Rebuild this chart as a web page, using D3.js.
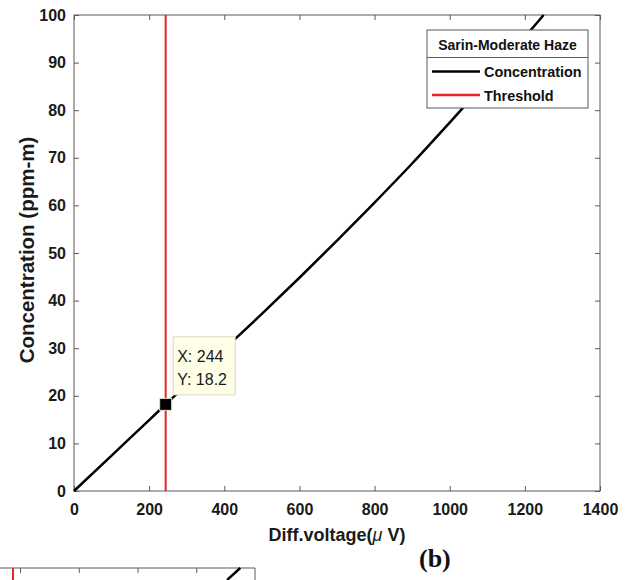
<!DOCTYPE html>
<html>
<head>
<meta charset="utf-8">
<script src="https://cdn.jsdelivr.net/npm/d3@7"></script>
<style>
  html, body { margin: 0; padding: 0; background: #fff; }
  svg { display: block; }
</style>
</head>
<body>
<svg id="chart" width="631" height="580" style="font-family: 'Liberation Sans', Arial, sans-serif"></svg>
<script>
// ---- data ----
const voltage       = [0, 100, 200, 244, 300, 400, 500, 600, 700, 800, 900, 1000, 1100, 1200, 1250];
const concentration = [0, 7.45, 14.9, 18.2, 22.4, 29.8, 37.2, 44.8, 52.6, 60.6, 68.8, 77.4, 86.2, 95.4, 100];
const thresholdX = [244, 244];
const thresholdY = [0, 100];
const tipX = 244, tipY = 18.2;
const xTicks = [0, 200, 400, 600, 800, 1000, 1200, 1400];
const yTicks = [0, 10, 20, 30, 40, 50, 60, 70, 80, 90, 100];
const legendTitle = "Sarin-Moderate Haze";
const seriesNames = ["Concentration", "Threshold"];
const seriesColors = ["#000000", "#e8232a"];
// fragment of the next panel (partially visible at bottom)
const fragTicks = [200, 400, 600, 800];
const fragThreshold = [176, 176];
const fragConcX = [905, 950];
const fragConcY = [97.5, 100];

const svg = d3.select("#chart");
const L = 74, R = 600, T = 15, B = 491;
const x = d3.scaleLinear().domain([0, 1400]).range([L, R]);
const y = d3.scaleLinear().domain([0, 100]).range([B, T]);
const axisCol = "#5a5a5a";
const sans = "'Liberation Sans', Arial, sans-serif";

// frame
svg.append("rect").attr("x", L).attr("y", T).attr("width", R - L).attr("height", B - T)
  .attr("fill", "none").attr("stroke", axisCol).attr("stroke-width", 1);

function styleAxis(g) {
  g.select(".domain").remove();
  g.selectAll(".tick line").attr("stroke", axisCol);
  g.selectAll(".tick text").attr("fill", "#1a1a1a").attr("font-size", 16).attr("font-weight", "bold")
    .attr("font-family", sans);
}
svg.append("g").attr("transform", `translate(0,${B})`)
  .call(d3.axisBottom(x).tickValues(xTicks).tickSizeInner(-5).tickSizeOuter(0).tickPadding(13).tickFormat(d3.format("d")))
  .call(styleAxis);
svg.append("g").attr("transform", `translate(${L},0)`)
  .call(d3.axisLeft(y).tickValues(yTicks).tickSizeInner(-5).tickSizeOuter(0).tickPadding(8).tickFormat(d3.format("d")))
  .call(styleAxis);
svg.append("g").attr("transform", `translate(0,${T})`)
  .call(d3.axisTop(x).tickValues(xTicks).tickSizeInner(-5).tickSizeOuter(0).tickFormat(""))
  .call(styleAxis);
svg.append("g").attr("transform", `translate(${R},0)`)
  .call(d3.axisRight(y).tickValues(yTicks).tickSizeInner(-5).tickSizeOuter(0).tickFormat(""))
  .call(styleAxis);

// threshold line
const pts = (xs, ys) => xs.map((v, i) => [v, ys[i]]);
const line = d3.line().x(d => x(d[0])).y(d => y(d[1]));
svg.append("path").datum(pts(thresholdX, thresholdY)).attr("d", line)
  .attr("fill", "none").attr("stroke", seriesColors[1]).attr("stroke-width", 2);
// concentration curve
svg.append("path").datum(pts(voltage, concentration))
  .attr("d", d3.line().x(d => x(d[0])).y(d => y(d[1])).curve(d3.curveMonotoneX))
  .attr("fill", "none").attr("stroke", seriesColors[0]).attr("stroke-width", 2.5);

// legend
const lg = svg.append("g").attr("transform", "translate(427,30)");
lg.append("rect").attr("width", 161).attr("height", 78).attr("fill", "#fff").attr("stroke", axisCol).attr("stroke-width", 1);
lg.append("line").attr("x1", 0).attr("x2", 161).attr("y1", 27.5).attr("y2", 27.5).attr("stroke", axisCol);
lg.append("text").attr("x", 80.5).attr("y", 20).attr("text-anchor", "middle")
  .attr("font-size", 14).attr("font-weight", "bold").attr("fill", "#111").text(legendTitle);
seriesNames.forEach((name, i) => {
  const yy = 41.5 + i * 23.5;
  lg.append("line").attr("x1", 5).attr("x2", 53).attr("y1", yy).attr("y2", yy)
    .attr("stroke", seriesColors[i]).attr("stroke-width", 2.5);
  lg.append("text").attr("x", 57).attr("y", yy + 5.5).attr("font-size", 14.4).attr("font-weight", "bold")
    .attr("fill", "#111").text(name);
});

// datatip
const px = x(tipX), py = y(tipY);
const tip = svg.append("g").attr("transform", `translate(${px},${py})`);
tip.append("rect").attr("x", 7.5).attr("y", -67.5).attr("width", 62).attr("height", 58)
  .attr("fill", "#ffffe8").attr("stroke", "#d8d8c4").attr("stroke-width", 1);
tip.append("text").attr("x", 11.5).attr("y", -42).attr("font-size", 16).attr("fill", "#1a1a1a").text(`X: ${tipX}`);
tip.append("text").attr("x", 11.5).attr("y", -19).attr("font-size", 16).attr("fill", "#1a1a1a").text(`Y: ${tipY}`);
tip.append("rect").attr("x", -6).attr("y", -6).attr("width", 12).attr("height", 12)
  .attr("fill", "#000").attr("stroke", "#e4e4cc").attr("stroke-width", 1);

// axis labels
svg.append("text").attr("x", 337).attr("y", 541).attr("text-anchor", "middle")
  .attr("font-size", 18).attr("font-weight", "bold").attr("fill", "#1a1a1a")
  .call(t => {
    t.append("tspan").text("Diff.voltage(");
    t.append("tspan").attr("font-weight", "normal").attr("font-style", "italic").text("μ");
    t.append("tspan").text(" V)");
  });
svg.append("text").attr("transform", `translate(34,${(T + B) / 2 - 3}) rotate(-90)`).attr("text-anchor", "middle")
  .attr("font-size", 20.5).attr("font-weight", "bold").attr("fill", "#1a1a1a").text("Concentration (ppm-m)");

// panel label
svg.append("text").attr("x", 419).attr("y", 567)
  .style("font-family", "'Liberation Serif', 'Times New Roman', serif")
  .attr("font-size", 26).attr("font-weight", "bold").attr("fill", "#111").text("(b)");

// fragment of next panel
const fx = d3.scaleLinear().domain([0, 1000]).range([-38.7, 255]);
const fy = d3.scaleLinear().domain([0, 100]).range([568 + 476, 568]);
const frag = svg.append("g");
frag.append("line").attr("x1", 0).attr("x2", fx(1000)).attr("y1", 568).attr("y2", 568).attr("stroke", axisCol);
frag.append("line").attr("x1", fx(1000)).attr("x2", fx(1000)).attr("y1", 568).attr("y2", 580).attr("stroke", axisCol);
frag.append("g").attr("transform", "translate(0,568)")
  .call(d3.axisTop(fx).tickValues(fragTicks).tickSizeInner(-5).tickSizeOuter(0).tickFormat(""))
  .call(styleAxis);
frag.append("path").datum(pts(fragThreshold, [90, 100]))
  .attr("d", d3.line().x(d => fx(d[0])).y(d => fy(d[1])))
  .attr("stroke", seriesColors[1]).attr("stroke-width", 2).attr("fill", "none");
frag.append("path").datum(pts(fragConcX, fragConcY))
  .attr("d", d3.line().x(d => fx(d[0])).y(d => fy(d[1])))
  .attr("stroke", seriesColors[0]).attr("stroke-width", 2.5).attr("fill", "none");
</script>
</body>
</html>
